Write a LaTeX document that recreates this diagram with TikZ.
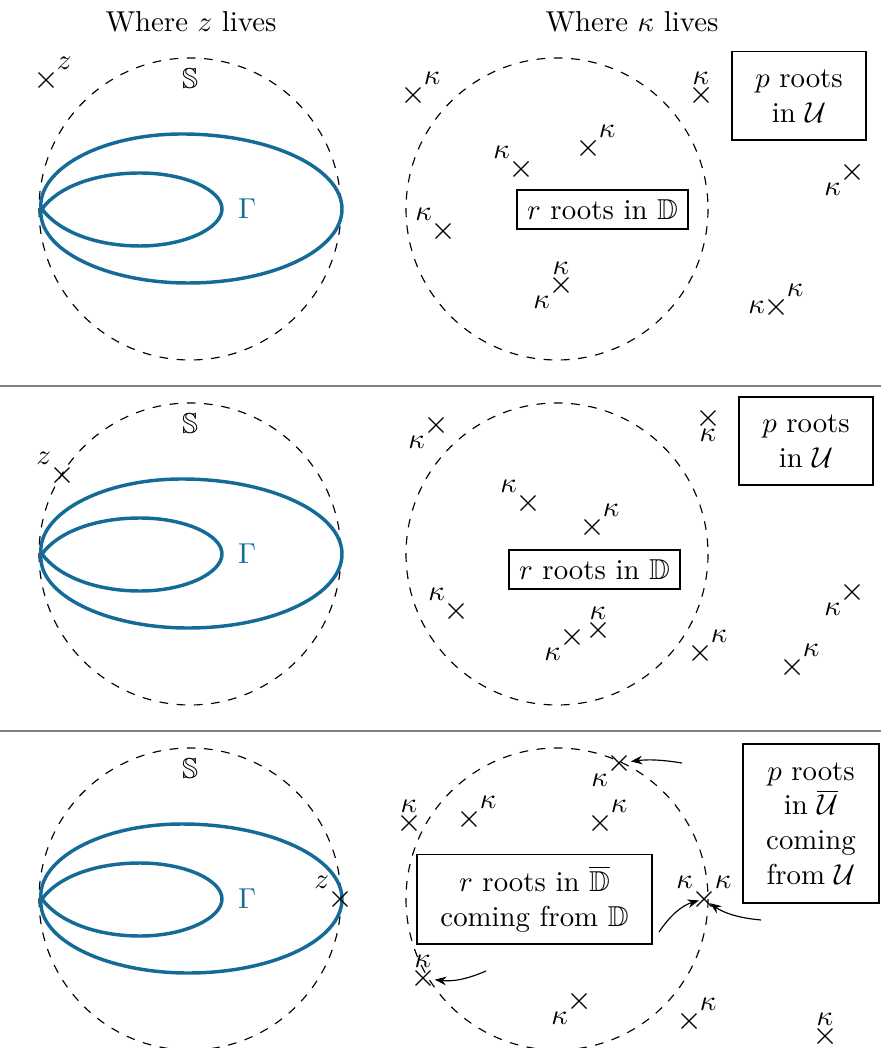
\documentclass[tikz,border=0pt]{standalone}
\usepackage{amssymb}
\usetikzlibrary{shapes.misc,arrows.meta}
\definecolor{gblue}{RGB}{21,107,152}
\begin{document}
\begin{tikzpicture}[x=0.3472pt,y=-0.3472pt,
  root/.style={draw, cross out, minimum size=4.8pt, inner sep=0pt},
  every label/.style={inner sep=1pt},
  label distance=0pt,
  circ/.style={dashed, thin},
  gam/.style={draw=gblue, line width=1.2pt, line cap=round},
  box/.style={draw, align=center, inner sep=1pt},
  sepline/.style={draw=gray, line width=0.5pt},
  arr/.style={-{Stealth[length=4pt,width=3pt]}, thin}]
\useasboundingbox (0,0) rectangle (881,1048);

% titles
\node (t1) at (191,22) {Where $z$ lives};
\node (t2) at (632,22) {Where $\kappa$ lives};

% separators
\draw[sepline] (0,386) -- (881,386);
\draw[sepline] (0,731) -- (881,731);

% left panels
\foreach \dy/\i in {0/1,345/2,690/3}{
  \begin{scope}[shift={(0,\dy)}]
    \draw[circ] (190,209) circle[radius=151];
    \node (S\i) at (190,79) {$\mathbb{S}$};
    \draw[gam] (41,209) .. controls (37,170) and (100,134) .. (182,134)
       .. controls (270,134) and (342,168) .. (342,209)
       .. controls (342,250) and (273,283) .. (188,283)
       .. controls (107,283) and (37,250) .. (41,209);
    \draw[gam] (42,209) .. controls (58,187) and (95,173) .. (140,173)
       .. controls (185,173) and (222,190) .. (222,209)
       .. controls (222,228) and (185,246) .. (140,246)
       .. controls (95,246) and (58,231) .. (42,209);
    \node[text=gblue] (G\i) at (247,209) {$\Gamma$};
  \end{scope}
}
\node[root,label={above right:$z$}] (z1) at (46,80) {};
\node[root,label={above left:$z$}] (z2) at (62,475) {};
\node[root,label={above left:$z$}] (z3) at (340,899) {};

% right panel 1
\draw[circ] (557,209) circle[radius=151];
\node[box, minimum width=59.4pt, minimum height=13.5pt] (r1) at (602.5,209.5) {$r$ roots in $\mathbb{D}$};
\node[box, minimum width=46.5pt, minimum height=30.6pt] (p1) at (799,96) {$p$ roots\\in $\mathcal{U}$};
\node[root,label={above right:$\kappa$}] (a1) at (413,95) {};
\node[root,label={above:$\kappa$}] (a2) at (701,95) {};
\node[root,label={above right:$\kappa$}] (a3) at (588,148) {};
\node[root,label={above left:$\kappa$}] (a4) at (521,169) {};
\node[root,label={below left:$\kappa$}] (a5) at (852,172) {};
\node[root,label={above left:$\kappa$}] (a6) at (443,231) {};
\node[root,label={above:$\kappa$},label={below left:$\kappa$}] (a7) at (561,285) {};
\node[root,label={left:$\kappa$},label={above right:$\kappa$}] (a8) at (776,307) {};

% right panel 2
\draw[circ] (557,554) circle[radius=151];
\node[box, minimum width=59.4pt, minimum height=13.5pt] (r2) at (594.5,569.5) {$r$ roots in $\mathbb{D}$};
\node[box, minimum width=46.5pt, minimum height=30.6pt] (p2) at (806,441) {$p$ roots\\in $\mathcal{U}$};
\node[root,label={below left:$\kappa$}] (b1) at (436,425) {};
\node[root,label={below:$\kappa$}] (b2) at (708,418) {};
\node[root,label={above left:$\kappa$}] (b3) at (528,503) {};
\node[root,label={above right:$\kappa$}] (b4) at (592,527) {};
\node[root,label={above left:$\kappa$}] (b5) at (456,611) {};
\node[root,label={below left:$\kappa$}] (b6) at (572,637) {};
\node[root,label={above:$\kappa$}] (b7) at (598,630) {};
\node[root,label={above right:$\kappa$}] (b8) at (700,653) {};
\node[root,label={below left:$\kappa$}] (b9) at (852,592) {};
\node[root,label={above right:$\kappa$}] (b10) at (792,667) {};

% right panel 3
\draw[circ] (557,899) circle[radius=151];
\node[box, minimum width=81.6pt, minimum height=31.2pt] (r3) at (534.5,899) {$r$ roots in $\overline{\mathbb{D}}$\\coming from $\mathbb{D}$};
\node[box, minimum width=47.2pt, minimum height=55.2pt] (p3) at (811,823.5) {$p$ roots\\in $\overline{\mathcal{U}}$\\coming\\from $\mathcal{U}$};
\node[root,label={below left:$\kappa$}] (c1) at (619,763) {};
\node[root,label={above:$\kappa$}] (c2) at (409,823) {};
\node[root,label={above right:$\kappa$}] (c3) at (469,819) {};
\node[root,label={above right:$\kappa$}] (c4) at (600,823) {};
\node[root,label={above left:$\kappa$},label={above right:$\kappa$}] (c5) at (704,899) {};
\node[root,label={above:$\kappa$}] (c6) at (423,978) {};
\node[root,label={below left:$\kappa$}] (c7) at (579,1001) {};
\node[root,label={above right:$\kappa$}] (c8) at (689,1021) {};
\node[root,label={above:$\kappa$}] (c9) at (825,1036) {};

\coordinate (s1) at (682,763);
\coordinate (s2) at (659,932);
\coordinate (s3) at (761,920);
\coordinate (s4) at (486,971);
\draw[arr, shorten >=1.5pt] (s1) to[bend right=8] (c1);
\draw[arr, shorten >=1.8pt] (s2) to[bend left=20] (c5.center);
\draw[arr, shorten >=2.5pt] (s3) to[bend left=15] (c5.center);
\draw[arr, shorten >=1.5pt] (s4) to[bend left=15] (c6);
\end{tikzpicture}
\end{document}
